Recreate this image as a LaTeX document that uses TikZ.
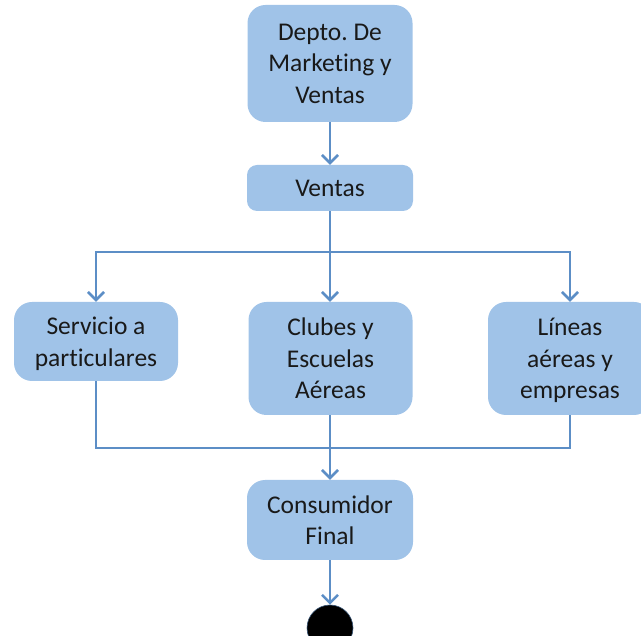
\documentclass[tikz,border=0pt]{standalone}
\usepackage{fontspec}
\setmainfont{Carlito}[Ligatures=NoCommon]
\usetikzlibrary{arrows.meta}
\definecolor{boxfill}{RGB}{160,195,232}
\definecolor{linkblue}{RGB}{92,142,198}
\definecolor{inkdark}{RGB}{25,25,25}
\tikzset{
  flowbox/.style={fill=boxfill, draw=none, rounded corners=18pt, align=center,
    text=inkdark, inner sep=0pt, text depth=-5pt,
    font=\fontsize{25.5}{31.5}\selectfont},
  link/.style={draw=linkblue, line width=2.6pt},
  linkarrow/.style={link, -{Straight Barb[length=8pt,width=16pt,line width=2.6pt]}},
  endstate/.style={circle, fill=black, draw=linkblue!60!black, line width=0.6pt,
    minimum size=46pt, inner sep=0pt}
}
\begin{document}
\frenchspacing
\begin{tikzpicture}[x=1pt,y=-1pt]
  \useasboundingbox (0,0) rectangle (641,636);
  \clip (0,0) rectangle (641,636);

  % activity boxes
  \node[flowbox, minimum width=165pt, minimum height=117pt] (dept) at (330,63.5)
    {Depto. De\\Marketing y\\Ventas};
  \node[flowbox, minimum width=166pt, minimum height=46pt, rounded corners=10pt] (ventas) at (330,188)
    {Ventas};
  \node[flowbox, minimum width=164pt, minimum height=79pt] (serv) at (96,341.5)
    {Servicio a\\particulares};
  \node[flowbox, minimum width=164pt, minimum height=113pt] (clubes) at (330.5,358.5)
    {Clubes y\\Escuelas\\Aéreas};
  \node[flowbox, minimum width=164pt, minimum height=113pt] (lineas) at (570,358.5)
    {Líneas\\aéreas y\\empresas};
  \node[flowbox, minimum width=166pt, minimum height=80pt] (cons) at (330,520)
    {Consumidor\\Final};
  \node[endstate] (fin) at (330,628) {};

  % branch and merge points
  \coordinate (split) at (330,252);
  \coordinate (join) at (330,448);

  % connectors
  \draw[linkarrow] (dept.south) -- (ventas.north);
  \draw[link] (ventas.south) -- (split);
  \draw[linkarrow] (split) -- (clubes.north -| split);
  \draw[linkarrow] (split) -| (serv.north);
  \draw[linkarrow] (split) -| (lineas.north);

  \draw[link] (serv.south) |- (join);
  \draw[link] (lineas.south) |- (join);
  \draw[linkarrow] (clubes.south -| join) -- (cons.north -| join);
  \draw[linkarrow] (cons.south) -- (fin.north);
\end{tikzpicture}
\end{document}
